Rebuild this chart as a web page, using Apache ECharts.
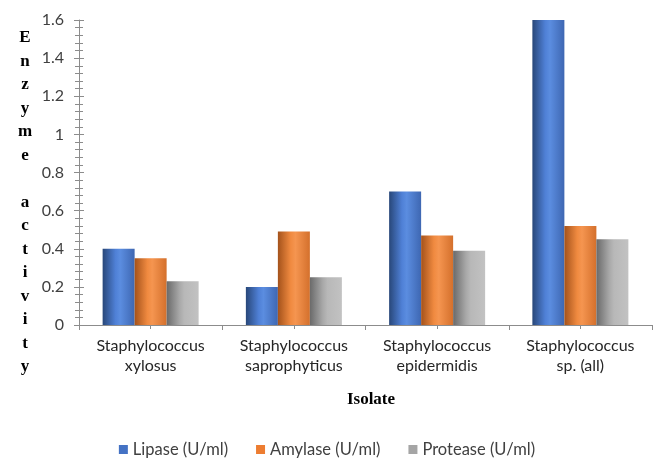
<!DOCTYPE html>
<html>
<head>
<meta charset="utf-8">
<script src="https://cdn.jsdelivr.net/npm/echarts@6/dist/echarts.min.js"></script>
<style>html,body{margin:0;padding:0;background:#fff}#c{width:654px;height:459px}</style>
</head>
<body>
<div id="c"></div>
<script>
const categories = ['Staphylococcus\nxylosus', 'Staphylococcus\nsaprophyticus', 'Staphylococcus\nepidermidis', 'Staphylococcus\nsp. (all)'];
const lipase = [0.4, 0.2, 0.7, 1.6];
const amylase = [0.35, 0.49, 0.47, 0.52];
const protease = [0.23, 0.25, 0.39, 0.45];
const seriesNames = ['Lipase (U/ml)', 'Amylase (U/ml)', 'Protease (U/ml)'];
const yTitle = 'Enzyme activity';
const xTitle = 'Isolate';

const chart = echarts.init(document.getElementById('c'));
function grad(c0, c1, c2, c3) {
  return new echarts.graphic.LinearGradient(0, 0, 1, 0, [
    {offset: 0, color: c0}, {offset: 0.4, color: c1}, {offset: 0.55, color: c2}, {offset: 1, color: c3}
  ]);
}
const fills = [
  grad('#284779', '#4f80d6', '#5b8de0', '#3e67b2'),
  grad('#a4521b', '#f08a40', '#f59550', '#d4702c'),
  grad('#6a6a6a', '#a8a8a8', '#b8b8b8', '#c2c2c2')
];
const flat = ['#4472C4', '#ED7D31', '#A5A5A5'];
const dataSets = [lipase, amylase, protease];
const font = 'Lato, "Noto Sans", sans-serif';
const grid = {left: 79, right: 2, top: 20, bottom: 134};
const yBase = {type: 'value', min: 0, max: 1.6, interval: 0.2, position: 'left'};
const xBase = {type: 'category', data: categories, position: 'bottom'};

chart.setOption({
  animation: false,
  grid: grid,
  title: [{
    text: yTitle.split('').map(c => c === ' ' ? ' ' : c).join('\n'),
    left: 20, top: 21, textAlign: 'center',
    textStyle: {fontFamily: '"Liberation Serif", serif', fontWeight: 'bold', fontSize: 17, lineHeight: 23.5, color: '#000'}
  }, {
    text: xTitle, left: 366, top: 386, textAlign: 'center',
    textStyle: {fontFamily: '"Liberation Serif", serif', fontWeight: 'bold', fontSize: 17, color: '#000'}
  }],
  legend: {
    top: 436, left: 'center', itemWidth: 9, itemHeight: 9, itemGap: 28,
    icon: 'rect',
    textStyle: {fontFamily: font, fontSize: 16.5, color: '#404040'},
    data: seriesNames.map((n, i) => ({name: n, itemStyle: {color: flat[i]}}))
  },
  xAxis: [
    Object.assign({}, xBase, {
      axisLine: {lineStyle: {color: '#8c8c8c', width: 1}},
      axisTick: {show: true, length: 5, lineStyle: {color: '#8c8c8c'}},
      axisLabel: {fontFamily: font, fontSize: 16, color: '#262626', lineHeight: 20, margin: 11, interval: 0}
    }),
    Object.assign({}, xBase, {
      axisLine: {show: false}, axisLabel: {show: false},
      axisTick: {show: true, alignWithLabel: true, inside: true, length: 4, lineStyle: {color: '#8c8c8c'}}
    }),
    Object.assign({}, xBase, {
      axisLine: {show: false}, axisLabel: {show: false},
      axisTick: {show: true, alignWithLabel: true, length: 4, lineStyle: {color: '#8c8c8c'}}
    })
  ],
  yAxis: [
    Object.assign({}, yBase, {
      axisLine: {show: true, lineStyle: {color: '#8c8c8c'}},
      axisTick: {show: true, length: 5, lineStyle: {color: '#8c8c8c'}},
      minorTick: {show: true, splitNumber: 5, length: 4, lineStyle: {color: '#8c8c8c'}},
      splitLine: {show: false},
      axisLabel: {fontFamily: font, fontSize: 16, color: '#404040', margin: 15}
    }),
    Object.assign({}, yBase, {
      axisLine: {show: false}, axisLabel: {show: false}, splitLine: {show: false},
      axisTick: {show: true, inside: true, length: 5, lineStyle: {color: '#8c8c8c'}},
      minorTick: {show: true, splitNumber: 5, length: 4, lineStyle: {color: '#8c8c8c'}}
    })
  ],
  series: dataSets.map((d, i) => ({
    type: 'bar', name: seriesNames[i], data: d, xAxisIndex: 0, yAxisIndex: 0,
    barWidth: 32, barGap: '0%',
    itemStyle: {color: fills[i]}
  }))
});
</script>
</body>
</html>
